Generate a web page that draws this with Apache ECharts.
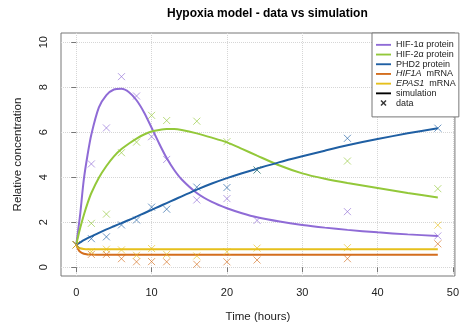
<!DOCTYPE html>
<html>
<head>
<meta charset="utf-8">
<script src="https://cdn.jsdelivr.net/npm/echarts@6/dist/echarts.min.js"></script>
<style>
html,body{margin:0;padding:0;background:#fff;}
#chart{width:462px;height:331px;}
</style>
</head>
<body>
<div id="chart"></div>
<script>
// ---- data ----
var simTimes = [0,0.25,0.5,1,1.5,2,3,4,5,6,7,8,9,10,11,12,13,14,16,18,20,22,24,27,30,33,36,40,44,48];
var simHIF1a = [1.0,1.65,2.3,3.9,5.0,5.9,7.1,7.65,7.9,7.93,7.78,7.42,6.88,6.2,5.5,4.85,4.32,3.9,3.3,2.9,2.62,2.4,2.22,2.03,1.88,1.76,1.66,1.55,1.46,1.39];
var simHIF2a = [1.0,1.38,1.72,2.32,2.85,3.3,3.98,4.5,4.93,5.25,5.5,5.72,5.9,6.03,6.1,6.14,6.14,6.1,5.95,5.76,5.55,5.26,4.96,4.52,4.17,3.93,3.74,3.52,3.3,3.1];
var simPHD2 = [1.0,1.05,1.1,1.2,1.29,1.37,1.53,1.68,1.82,1.96,2.1,2.25,2.4,2.55,2.7,2.85,3.0,3.15,3.45,3.72,3.96,4.18,4.38,4.67,4.93,5.18,5.42,5.7,5.95,6.18];
var simHIF1A_mRNA = [1.0,0.8,0.69,0.6,0.57,0.56,0.55,0.55,0.55,0.55,0.55,0.55,0.55,0.55,0.55,0.55,0.55,0.55,0.55,0.55,0.55,0.55,0.55,0.55,0.55,0.55,0.55,0.55,0.55,0.55];
var simEPAS1_mRNA = [1.0,0.88,0.84,0.81,0.8,0.8,0.8,0.8,0.8,0.8,0.8,0.8,0.8,0.8,0.8,0.8,0.8,0.8,0.8,0.8,0.8,0.8,0.8,0.8,0.8,0.8,0.8,0.8,0.8,0.8];

var dataTimes = [0,2,4,6,8,10,12,16,20,24,36,48];
var dataHIF1a = [1.0,4.59,6.19,8.47,7.61,5.80,4.79,2.99,3.05,2.08,2.47,1.39];
var dataHIF2a = [1.0,1.95,2.36,5.09,5.56,6.75,6.52,6.49,5.58,4.32,4.72,3.49];
var dataPHD2 = [1.0,1.27,1.35,1.88,2.10,2.67,2.58,3.56,3.54,4.32,5.73,6.18];
var dataHIF1A_mRNA = [1.0,0.57,0.57,0.38,0.24,0.25,0.24,0.13,0.24,0.32,0.38,1.04];
var dataEPAS1_mRNA = [1.0,0.69,0.8,0.77,0.53,0.83,0.57,0.5,0.69,0.85,0.87,1.87];

var xTicks = [0,10,20,30,40,50];
var yTicks = [0,2,4,6,8,10];

var names = ['HIF-1α protein','HIF-2α protein','PHD2 protein','HIF1A mRNA','EPAS1 mRNA'];
var colors = ['#8f6bd6','#93c83a','#1f5fa3','#d46e1e','#e6c01c'];
var simSets = [simHIF1a, simHIF2a, simPHD2, simHIF1A_mRNA, simEPAS1_mRNA];
var dataSets = [dataHIF1a, dataHIF2a, dataPHD2, dataHIF1A_mRNA, dataEPAS1_mRNA];

function pairs(xs, ys){ return xs.map(function(x,i){ return [x, ys[i]]; }); }

var crossPath = 'path://M0,0 L10,10 M10,0 L0,10';
var lineIcon = 'path://M0,0 L16,0 L16,2 L0,2 Z';
var dataIcon = 'path://M0,1 L1,0 L3,2 L5,0 L6,1 L4,3 L6,5 L5,6 L3,4 L1,6 L0,5 L2,3 Z';

var series = [];
for (var i = 0; i < 5; i++) {
  series.push({
    name: names[i], type: 'line', data: pairs(simTimes, simSets[i]),
    showSymbol: false, symbol: 'none', smooth: 0.25,
    lineStyle: {color: colors[i], width: 2}, itemStyle: {color: colors[i]},
    z: 3, silent: true, animation: false
  });
}
for (var j = 0; j < 5; j++) {
  series.push({
    name: names[j] + ' data', type: 'scatter', data: pairs(dataTimes, dataSets[j]),
    symbol: crossPath, symbolSize: 7,
    itemStyle: {color: 'transparent', borderColor: colors[j], borderWidth: 1, opacity: 0.65},
    z: 4, silent: true, animation: false
  });
}
series.push({name: 'simulation', type: 'line', data: [], itemStyle: {color: '#000'}, lineStyle: {color: '#000'}});
series.push({name: 'data', type: 'scatter', data: [], itemStyle: {color: '#000'}});

var legendData = names.map(function(n, k){
  return {name: n, icon: lineIcon, itemStyle: {color: colors[k]}};
});
legendData.push({name: 'simulation', icon: lineIcon, itemStyle: {color: '#000'}});
legendData.push({name: 'data', icon: dataIcon, itemStyle: {color: '#000'}});

var chart = echarts.init(document.getElementById('chart'), null, {renderer: 'canvas'});
chart.setOption({
  animation: false,
  backgroundColor: '#fff',
  textStyle: {fontFamily: 'Liberation Sans, Arial, sans-serif'},
  title: {
    text: 'Hypoxia model - data vs simulation',
    left: 162, top: 3,
    textStyle: {fontSize: 12, fontWeight: 'bold', color: '#000', fontFamily: 'Liberation Sans, Arial, sans-serif'}
  },
  grid: {left: 61, right: 7, top: 33, bottom: 55, show: true, borderColor: '#777', borderWidth: 1, backgroundColor: 'transparent', containLabel: false},
  xAxis: {
    type: 'value', min: -2.03, max: 50.27,
    name: 'Time (hours)', nameLocation: 'middle', nameGap: 35,
    nameTextStyle: {fontSize: 11.5, color: '#222'},
    axisLine: {show: false},
    axisTick: {show: true, inside: false, length: 5, lineStyle: {color: '#777'}, customValues: xTicks},
    axisLabel: {customValues: xTicks, fontSize: 11, color: '#222', margin: 11},
    splitLine: {show: true, lineStyle: {color: '#d6d6d6', type: 'dotted', width: 1}}
  },
  yAxis: {
    type: 'value', min: -0.39, max: 10.41,
    name: 'Relative concentration', nameLocation: 'middle', nameGap: 37,
    nameTextStyle: {fontSize: 11.5, color: '#222'},
    axisLine: {show: false},
    axisTick: {show: true, inside: false, length: 5, lineStyle: {color: '#777'}, customValues: yTicks},
    axisLabel: {customValues: yTicks, fontSize: 11, color: '#222', rotate: 90, margin: 12},
    splitLine: {show: true, lineStyle: {color: '#d6d6d6', type: 'dotted', width: 1}}
  },
  legend: {
    orient: 'vertical', left: 372, top: 33,
    padding: [7, 3, 9, 4],
    itemWidth: 15, itemHeight: 6, itemGap: 0,
    backgroundColor: '#fff', borderColor: '#777', borderWidth: 1,
    selectedMode: false,
    data: legendData,
    textStyle: {fontSize: 9, color: '#222', lineHeight: 9.7,
      rich: {
        it: {fontStyle: 'italic', fontSize: 9, color: '#222', lineHeight: 9.7},
        n: {fontSize: 9, color: '#222', lineHeight: 9.7}
      }},
    formatter: function(n){
      if (n === 'HIF1A mRNA') return '{it|HIF1A}{n|  mRNA}';
      if (n === 'EPAS1 mRNA') return '{it|EPAS1}{n|  mRNA}';
      return n;
    }
  },
  series: series
});
</script>
</body>
</html>
